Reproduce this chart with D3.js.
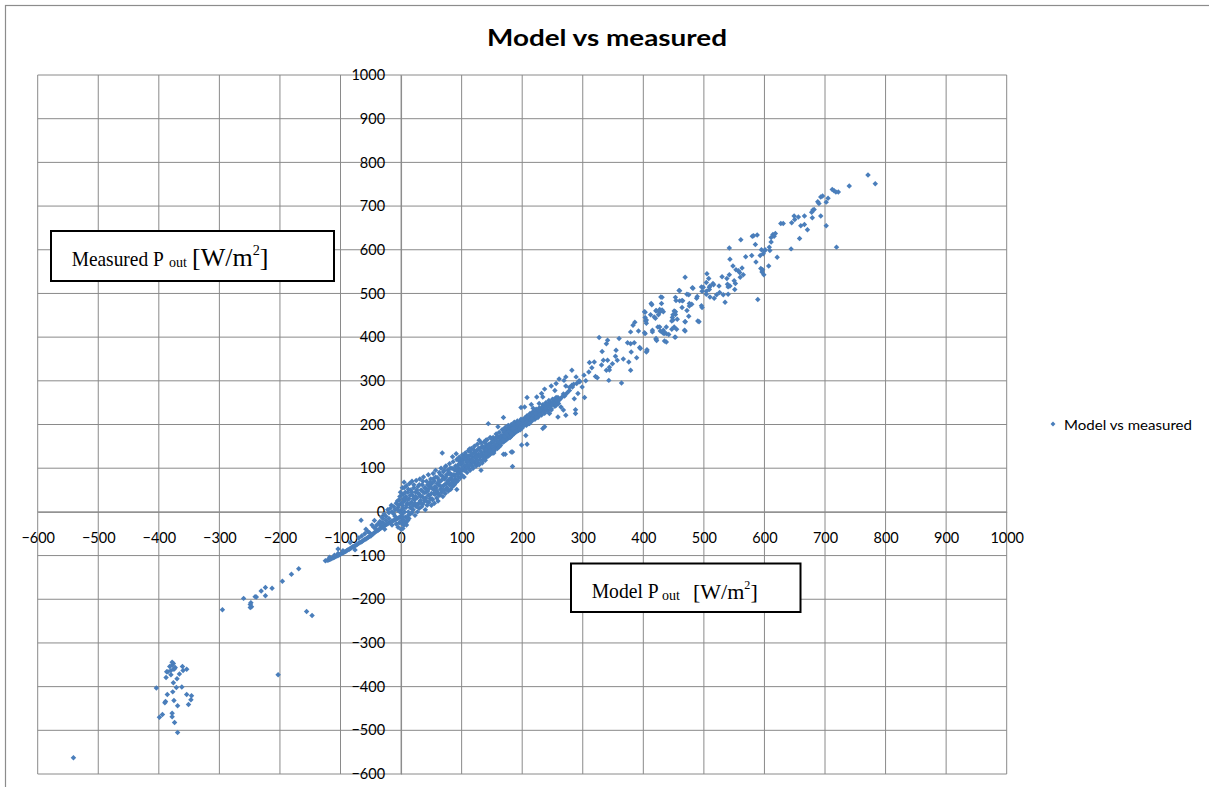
<!DOCTYPE html>
<html><head><meta charset="utf-8">
<script src="https://cdn.jsdelivr.net/npm/d3@7"></script>
<style>html,body{margin:0;padding:0;background:#fff;}svg{display:block;}</style>
</head><body>
<svg id="chart" width="1209" height="787"></svg>
<script>
const xTicks = [-600,-500,-400,-300,-200,-100,0,100,200,300,400,500,600,700,800,900,1000];
const yTicks = [-600,-500,-400,-300,-200,-100,0,100,200,300,400,500,600,700,800,900,1000];
const seriesName = "Model vs measured";

// lower-left cluster
const negPoints = [[-541,-563],[-369,-505],[-404,-403],[-399,-470],[-394,-464],[-378,-461],[-378,-469],[-374,-482],[-389,-434],[-390,-437],[-375,-432],[-369,-444],[-386,-418],[-377,-412],[-371,-402],[-362,-401],[-376,-391],[-354,-418],[-346,-421],[-347,-430],[-351,-441],[-388,-379],[-380,-373],[-370,-382],[-366,-371],[-387,-366],[-385,-366],[-376,-347],[-378,-351],[-382,-354],[-375,-360],[-373,-356],[-380,-363],[-361,-354],[-360,-363],[-354,-360],[-374,-358],[-378,-344]];
const midNegPoints = [[-295,-224],[-260,-198],[-248,-208],[-249,-219],[-247,-217],[-249,-212],[-241,-194],[-239,-195],[-231,-181],[-224,-173],[-224,-192],[-213,-175],[-196,-159],[-181,-143],[-169,-130],[-156,-228],[-147,-237],[-203,-373]];
// thin tail towards the origin
const tailPoints = [[-125,-112],[-122,-111],[-120,-110],[-118,-109],[-116,-108],[-114,-106],[-112,-105],[-110,-104],[-108,-102],[-106,-101],[-104,-100],[-102,-98],[-100,-97],[-98,-95],[-96,-94],[-94,-92],[-92,-91],[-90,-89],[-88,-87],[-86,-86],[-84,-84],[-82,-82],[-80,-80],[-78,-79],[-76,-77],[-74,-76],[-72,-74],[-70,-72],[-68,-70],[-66,-69],[-64,-67],[-62,-65],[-60,-63],[-58,-62],[-56,-60],[-54,-58],[-52,-56],[-50,-55],[-118,-104],[-110,-99],[-104,-95],[-96,-89],[-104,-85],[-76,-87],[-66,-19],[-52,-48],[-84,-70],[-70,-60],[-55,-45],[-60,-50],[-65,-55],[-58,-40],[-48,-30],[-44,-20]];
// dense core
const corePoints = [[-48,-52],[-46,-50],[-44,-48],[-42,-45],[-40,-44],[-38,-42],[-36,-40],[-34,-38],[-32,-36],[-30,-34],[-28,-32],[-26,-30],[-24,-29],[-22,-27],[-20,-25],[-18,-24],[-16,-22],[-14,-21],[-12,-20],[-10,-18],[-8,-17],[-6,-15],[-4,-14],[-2,-12],[0,-10],
[-40,-30],[-35,-22],[-30,-15],[-27,-40],[-25,-10],[-22,5],[-20,-2],[-18,8],[-15,0],[-12,12],[-10,5],[-8,20],[-5,10],[-3,28],[0,20],[-2,35],[-45,-35],[-38,-28],[-33,-25],
[-5,-35],[0,-40],[3,-38],[5,-30],[8,-25],[2,-28],[-3,-25],
[-15,-30],[-12,-5],[-8,-28],[-6,5],[-4,15],[-2,0],[1,-20],[3,-12],[4,30],[6,-22],[9,-30],[11,-20],[13,-15],[-10,-10],[-20,-15],[-25,-20],[-30,-25],[-35,-30],[-16,15],[-6,25],[-1,45],[2,55],[5,68],[-28,-5],[-32,-12],[-42,-38],
[2,-5],[2,15],[3,40],[4,-20],[5,25],[5,55],[6,0],[7,-12],[8,35],[8,10],[9,60],[10,-15],[10,20],[11,45],[12,0],[12,-8],[13,30],[14,65],[15,10],[15,-5],[16,50],[17,22],[18,-2],[18,70],[19,38],[20,5],[20,15],[21,55],[22,28],[23,-8],[24,45],[25,12],[25,72],[26,32],[27,0],[28,58],[29,20],[30,40],[30,8],[31,75],[32,26],[33,50],[34,12],[35,62],[35,35],[36,18],[37,80],[38,44],[39,25],[40,55],[40,5],[41,32],[42,70],[43,15],[44,48],[45,38],[45,85],[46,22],[47,60],[48,30],[49,75],[50,42],[50,15],
[51,65],[52,28],[53,88],[54,50],[55,20],[55,70],[56,40],[57,95],[58,55],[59,32],[60,78],[60,45],[61,25],[62,62],[63,90],[64,38],[65,70],[65,52],[66,100],[67,45],[68,82],[69,35],[70,60],[70,92],[71,50],[72,75],[73,42],[74,105],[75,65],[75,85],[76,55],[77,95],[78,48],[79,72],[80,110],[80,62],[81,88],[82,52],[83,78],[84,100],[85,68],[85,58],[86,115],[87,85],[88,62],[89,95],[90,75],[90,105],[91,68],[92,120],[93,88],[94,72],[95,100],[95,80],[96,125],[97,92],[98,78],[99,108],[100,85],[100,115],
[101,130],[102,95],[103,120],[104,80],[105,105],[106,135],[107,98],[108,115],[109,90],[110,125],[110,105],[111,140],[112,100],[113,118],[114,95],[115,130],[115,110],[116,145],[117,105],[118,125],[119,100],[120,135],[120,115],[121,150],[122,110],[123,128],[124,105],[125,140],[125,120],[126,155],[127,112],[128,132],[129,108],[130,145],[130,125],[131,118],[132,158],[133,135],[134,112],[135,148],[135,128],[136,120],[137,160],[138,138],[139,118],[140,150],[140,132],[141,125],[142,165],[143,142],[144,128],[145,155],[145,138],[146,130],[147,170],[148,148],[149,135],[150,160],[150,142],
[151,135],[152,170],[153,150],[154,140],[155,165],[156,148],[157,178],[158,155],[159,145],[160,170],[160,158],[161,150],[162,182],[163,162],[164,152],[165,175],[165,165],[166,158],[167,188],[168,170],[169,160],[170,182],[170,168],[171,162],[172,192],[173,175],[174,165],[175,188],[175,172],[176,168],[177,198],[178,180],[179,170],[180,192],[180,178],[181,172],[182,200],[183,185],[184,176],[185,196],[185,182],[186,178],[187,205],[188,190],[189,182],[190,200],[190,188],[191,184],[192,208],[193,195],[194,186],[195,205],[196,192],[197,188],[198,212],[199,198],[200,192],[200,205],
[202,200],[204,215],[205,205],[207,198],[208,220],[210,210],[212,204],[213,225],[215,212],[216,208],[218,230],[220,218],[221,212],[223,235],[225,222],[226,216],[228,238],[230,228],[232,222],[234,245],[235,232],[237,226],[239,250],[240,238],[242,232],[244,255],[246,242],[248,236],[250,258],[252,248],[254,242],[256,262],[258,252],[260,248]];
// extra points filling the middle of the core band
const coreFillPoints = [[1,5],[3,22],[4,8],[6,30],[7,45],[9,15],[11,28],[12,52],[14,18],[15,38],[17,8],[18,45],[20,30],[21,62],[23,20],[24,35],[26,50],[27,15],[29,42],[30,62],[32,35],[33,20],[35,48],[36,70],[38,30],[39,55],[41,45],[42,25],[44,62],[45,52],[47,38],[48,68],[50,55],[51,30],[53,75],[54,42],[56,58],[57,80],[59,48],[60,65],[62,40],[63,72],[65,85],[66,58],[68,50],[69,75],[71,95],[72,62],[74,80],[75,52],[77,70],[78,88],[80,75],[81,100],[83,65],[84,85],[86,72],[87,98],[89,82],[90,68],[92,95],[93,105],[95,88],[96,110],[98,95],[99,120],[101,100],[102,112],[104,125],[105,95],[107,120],[108,108],[110,115],[111,128],[113,108],[114,138],[116,120],[117,132],[119,115],[120,142],[122,125],[123,138],[125,130],[126,118],[128,145],[129,128],[131,140],[132,132],[134,150],[135,125],[137,145],[138,130],[140,142],[141,155],[143,135],[144,150],[146,148],[147,140],[149,158],[150,150],[152,160],[153,142],[155,155],[156,168],[158,162],[159,152],[161,172],[162,160],[164,168],[165,158],[167,175],[168,165],[170,175],[171,185],[173,168],[174,180],[176,190],[177,175],[179,185],[180,170],[182,190],[183,178],[185,188],[186,200],[188,185],[189,195],[191,190],[192,200],[194,198],[195,190],[197,205],[198,195],[200,200],[201,210],[203,205],[204,198],[206,212],[207,205],[209,218],[210,202],[212,215],[214,222],[216,215],[217,225],[219,220],[221,228],[223,218],[224,230],[226,225],[228,232],[229,222],[231,235],[233,240],[235,238],[236,228],[238,242],[240,245],[241,232],[243,248],[245,240],[247,250],[249,245],[251,252],[253,258],[255,250],[257,255],[259,262],[262,258],[265,262],[268,270],[270,265],[274,272],[278,285],[282,290],[285,292],[290,294],[295,298]];
// scattered points 70..500
const midPoints = [[459,507],[481,513],[489,493],[472,498],[464,484],[476,477],[472,461],[490,437],[469,435],[468,416],[452,400],[451,423],[449,439],[453,458],[454,484],[429,492],[430,477],[421,461],[427,457],[413,477],[403,457],[405,439],[418,446],[415,416],[421,397],[435,391],[433,416],[435,410],[424,423],[386,434],[383,427],[379,412],[392,414],[402,410],[406,368],[389,353],[394,376],[385,387],[379,385],[374,387],[380,366],[376,343],[379,324],[364,295],[360,397],[341,393],[339,385],[327,399],[332,367],[341,347],[334,347],[339,324],[344,325],[343,301],[355,370],[354,356],[357,347],[349,339],[344,331],[367,350],[331,336],[319,343],[311,342],[315,330],[321,310],[324,307],[310,320],[302,313],[305,300],[299,286],[303,262],[294,300],[289,309],[282,324],[272,309],[269,301],[261,304],[256,294],[248,288],[237,281],[254,278],[272,288],[278,278],[283,286],[292,271],[286,259],[270,267],[261,256],[256,244],[264,240],[268,233],[259,217],[272,221],[288,234],[288,225],[248,233],[245,225],[239,237],[234,263],[232,271],[224,263],[228,248],[208,262],[204,240],[198,239],[215,246],[218,237],[222,225],[209,217],[212,202],[201,210],[194,204],[185,191],[182,179],[171,172],[169,216],[160,195],[172,193],[234,191],[237,195],[206,175],[208,155],[199,153],[184,137],[172,132],[182,137],[144,202],[168,164],[158,172],[149,168],[140,164],[129,164],[135,149],[146,153],[162,149],[153,135],[140,133],[132,95],[124,126],[113,144],[107,130],[118,118],[95,118],[91,133],[85,126],[68,135],[73,103],[80,88],[92,51],[184,104],[169,132]];
// upper-right spread 390..790
const upperPoints = [[771,771],[783,751],[740,746],[712,738],[715,735],[718,732],[722,732],[693,721],[696,723],[688,710],[690,706],[702,709],[705,718],[680,691],[678,686],[682,692],[693,677],[679,673],[666,677],[656,675],[649,677],[650,669],[645,662],[660,655],[666,658],[671,646],[702,655],[658,626],[644,602],[719,606],[627,660],[631,660],[614,635],[616,631],[618,637],[611,628],[611,618],[608,606],[609,598],[601,600],[600,597],[595,600],[598,591],[593,587],[580,631],[588,634],[582,632],[585,612],[561,623],[542,604],[543,578],[569,584],[579,587],[586,572],[594,557],[597,554],[599,543],[596,549],[607,563],[621,583],[589,486],[548,563],[553,554],[557,552],[559,548],[563,558],[565,543],[560,537],[550,529],[542,543],[538,534],[539,521],[540,515],[543,517],[540,498],[551,509],[552,523],[530,538],[525,517],[526,502],[521,497],[517,489],[532,497],[535,480],[505,545],[508,534],[504,525],[515,523],[516,520],[510,517],[509,514],[509,509],[499,514],[496,515],[497,505],[504,505],[510,492],[504,498],[496,472],[497,468],[492,435],[469,537],[482,512],[475,497],[488,489],[460,506],[460,483],[465,483],[464,468],[476,471],[480,475],[475,448],[469,435],[469,414],[453,491],[451,460],[453,452],[449,451],[448,445],[447,437],[456,441],[438,423],[447,418],[455,418],[431,491],[421,460],[425,451],[427,463],[431,462],[433,458],[414,474],[402,458],[403,445],[404,437],[405,432],[412,451],[420,443],[403,408],[415,412],[427,423],[428,414],[431,412],[433,409],[435,409],[438,408],[442,406],[453,400],[438,389],[421,395],[422,392],[405,366],[406,371],[395,374]];

const allPoints = [].concat(negPoints, midNegPoints, tailPoints, corePoints, coreFillPoints, midPoints, upperPoints);

const svg = d3.select("#chart");
const x = d3.scaleLinear().domain([-600, 1000]).range([37.7, 1006.7]);
const y = d3.scaleLinear().domain([-600, 1000]).range([774, 75]);
const gridColor = "#8a8a8a";
const markerColor = "#4a7ebb";

// outer chart frame
svg.append("rect").attr("x", 5.5).attr("y", 5.5).attr("width", 1250).attr("height", 820)
  .attr("fill", "none").attr("stroke", "#8c8c8c").attr("stroke-width", 1.2);

// gridlines
const grid = svg.append("g");
grid.selectAll("line.v").data(xTicks).join("line")
  .attr("x1", d => x(d)).attr("x2", d => x(d)).attr("y1", y(1000)).attr("y2", y(-600))
  .attr("stroke", gridColor).attr("stroke-width", 1);
grid.selectAll("line.h").data(yTicks).join("line")
  .attr("y1", d => y(d)).attr("y2", d => y(d)).attr("x1", x(-600)).attr("x2", x(1000))
  .attr("stroke", gridColor).attr("stroke-width", 1);

const fontAxis = "Lato, 'Open Sans', sans-serif";
// x axis through y=0
const gx = svg.append("g").attr("transform", `translate(0,${y(0)})`)
  .call(d3.axisBottom(x).tickValues(xTicks).tickFormat(d3.format("d")).tickSize(0).tickPadding(21));
gx.select(".domain").attr("stroke", gridColor);
gx.selectAll("text").attr("font-family", fontAxis).attr("font-size", 14.5).attr("fill", "#000");
// y axis through x=0
const gy = svg.append("g").attr("transform", `translate(${x(0)},0)`)
  .call(d3.axisLeft(y).tickValues(yTicks).tickFormat(d3.format("d")).tickSize(0).tickPadding(16));
gy.select(".domain").attr("stroke", gridColor);
gy.selectAll("text").attr("font-family", fontAxis).attr("font-size", 14.5).attr("fill", "#000");
svg.selectAll(".tick line").remove();

// points
const sym = d3.symbol().type(d3.symbolSquare).size(15);
svg.append("g").selectAll("path").data(allPoints).join("path")
  .attr("d", sym)
  .attr("transform", d => `translate(${x(d[0])},${y(d[1])}) rotate(45)`)
  .attr("fill", markerColor);

// title
svg.append("text").attr("x", 607).attr("y", 46).attr("text-anchor", "middle")
  .attr("font-family", fontAxis).attr("font-weight", "bold").attr("font-size", 23)
  .attr("textLength", 240).attr("lengthAdjust", "spacingAndGlyphs")
  .text("Model vs measured");

// legend
svg.append("path").attr("d", d3.symbol().type(d3.symbolSquare).size(12))
  .attr("transform", "translate(1053,424) rotate(45)").attr("fill", markerColor);
svg.append("text").attr("x", 1064).attr("y", 429.5)
  .attr("font-family", fontAxis).attr("font-size", 14)
  .attr("textLength", 128).attr("lengthAdjust", "spacingAndGlyphs")
  .text(seriesName);

// text boxes
function labelBox(bx, by, bw, bh, main, mainX, mainW, baseY, subX, brX, brSize) {
  const g = svg.append("g");
  g.append("rect").attr("x", bx).attr("y", by).attr("width", bw).attr("height", bh)
    .attr("fill", "#fff").attr("stroke", "#000").attr("stroke-width", 2);
  const serif = "'Liberation Serif', 'Times New Roman', serif";
  g.append("text").attr("x", mainX).attr("y", baseY).attr("font-family", serif).attr("font-size", 21)
    .attr("textLength", mainW).attr("lengthAdjust", "spacingAndGlyphs").text(main);
  g.append("text").attr("x", subX).attr("y", baseY + 1.5).attr("font-family", serif).attr("font-size", 14).text("out");
  const t = g.append("text").attr("x", brX).attr("y", baseY + 0.5).attr("font-family", serif).attr("font-size", brSize);
  t.append("tspan").text("[W/m");
  t.append("tspan").attr("font-size", brSize * 0.55).attr("dy", -brSize * 0.42).text("2");
  t.append("tspan").attr("dy", brSize * 0.42).text("]");
}
labelBox(51, 231, 283, 50, "Measured P", 71.7, 92, 265.7, 169, 192, 26);
labelBox(571, 563.5, 229.5, 48.5, "Model P", 591.7, 67, 598, 662, 693, 22);
</script>
</body></html>
